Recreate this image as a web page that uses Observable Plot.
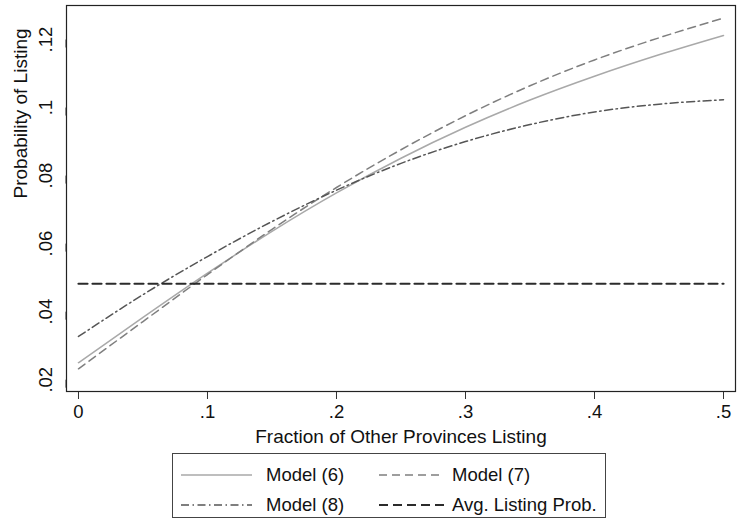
<!DOCTYPE html>
<html>
<head>
<meta charset="utf-8">
<script src="https://cdn.jsdelivr.net/npm/d3@7"></script>
<script src="https://cdn.jsdelivr.net/npm/@observablehq/plot@0.6"></script>
<style>
  html, body { margin: 0; padding: 0; background: #fff; }
  #wrap { position: relative; width: 751px; height: 518px; overflow: hidden; font-family: "Liberation Sans", Arial, Helvetica, sans-serif; }
  #chart { position: absolute; left: 0; top: 0; }
  #legend { position: absolute; left: 172px; top: 453px; width: 434px; height: 65px; box-sizing: border-box; border: 1px solid #444; background: #fff; }
  .item { position: absolute; height: 24px; display: flex; align-items: center; font-size: 18.5px; color: #111; white-space: nowrap; }
  .item svg { display: block; }
</style>
</head>
<body>
<div id="wrap">
  <div id="chart"></div>
  <div id="legend"></div>
</div>
<script>
// ---- data ----
const fraction = [0, 0.05, 0.1, 0.15, 0.2, 0.25, 0.3, 0.35, 0.4, 0.45, 0.5];
const model6 = [0.0250, 0.0383, 0.0513, 0.0636, 0.0749, 0.0851, 0.0942, 0.1022, 0.1092, 0.1155, 0.1212];
const model7 = [0.0232, 0.0371, 0.0509, 0.0642, 0.0765, 0.0876, 0.0976, 0.1064, 0.1140, 0.1205, 0.1263];
const model8 = [0.0327, 0.0450, 0.0562, 0.0665, 0.0757, 0.0836, 0.0900, 0.0950, 0.0987, 0.1010, 0.1023];
const avgListingProb = 0.0482;
const avgRange = [0, 0.5];
const seriesNames = ["Model (6)", "Model (7)", "Model (8)", "Avg. Listing Prob."];
const xTicks = [0, 0.1, 0.2, 0.3, 0.4, 0.5];
const yTicks = [0.02, 0.04, 0.06, 0.08, 0.1, 0.12];
const xTitle = "Fraction of Other Provinces Listing";
const yTitle = "Probability of Listing";

// ---- styles ----
const styles = {
  "Model (6)": {stroke: "#a9a9a9", strokeWidth: 1.5, dash: null},
  "Model (7)": {stroke: "#7f7f7f", strokeWidth: 1.5, dash: "8,5"},
  "Model (8)": {stroke: "#555555", strokeWidth: 1.5, dash: "8,3.5,1.5,3.5"},
  "Avg. Listing Prob.": {stroke: "#2b2b2b", strokeWidth: 2.2, dash: "9,5"}
};

const toRows = (vals) => fraction.map((x, i) => ({x, y: vals[i]}));
const rows6 = toRows(model6), rows7 = toRows(model7), rows8 = toRows(model8);
const avgRows = avgRange.map(x => ({x, y: avgListingProb}));

const fmt = d => d === 0 ? "0" : String(+d.toFixed(2)).replace(/^0\./, ".");
const font = "Liberation Sans, Arial, Helvetica, sans-serif";

const lineMark = (data, name) => {
  const s = styles[name];
  return Plot.line(data, {x: "x", y: "y", stroke: s.stroke, strokeWidth: s.strokeWidth,
    strokeDasharray: s.dash || undefined, curve: "monotone-x"});
};

const chart = Plot.plot({
  width: 751,
  height: 450,
  marginLeft: 66,
  marginRight: 16,
  marginTop: 5,
  marginBottom: 59,
  style: {fontFamily: font, background: "#fff", color: "#222"},
  x: {domain: [-0.0093, 0.5093]},
  y: {domain: [0.01653, 0.1300]},
  marks: [
    Plot.axisX({ticks: xTicks, tickFormat: fmt, tickSize: 8, tickPadding: 5, fontSize: 18.5,
      label: null, stroke: "#333", fill: "#111"}),
    Plot.axisY({ticks: yTicks, tickFormat: fmt, tickSize: 8, tickPadding: 7, fontSize: 18.5,
      rotate: -90, textAnchor: "middle", lineAnchor: "bottom", label: null, stroke: "#333", fill: "#111"}),
    Plot.text([xTitle], {frameAnchor: "bottom", lineAnchor: "top", dy: 38, fontSize: 19, fill: "#111"}),
    Plot.text([yTitle], {frameAnchor: "left", rotate: -90, lineAnchor: "top", dx: -53, fontSize: 19, fill: "#111"}),
    lineMark(rows6, "Model (6)"),
    lineMark(rows7, "Model (7)"),
    lineMark(rows8, "Model (8)"),
    lineMark(avgRows, "Avg. Listing Prob."),
    Plot.frame({stroke: "#222", strokeWidth: 1.2})
  ]
});
document.getElementById("chart").appendChild(chart);

// ---- legend ----
const legend = document.getElementById("legend");
const positions = [
  {left: 8, top: 9, w: 71, gap: 14},
  {left: 206, top: 9, w: 65, gap: 8},
  {left: 8, top: 39, w: 71, gap: 14},
  {left: 206, top: 39, w: 65, gap: 8}
];
seriesNames.forEach((name, i) => {
  const s = styles[name];
  const p = positions[i];
  const item = document.createElement("div");
  item.className = "item";
  item.style.left = p.left + "px";
  item.style.top = p.top + "px";
  const svg = document.createElementNS("http://www.w3.org/2000/svg", "svg");
  svg.setAttribute("width", p.w);
  svg.setAttribute("height", 10);
  svg.style.marginRight = p.gap + "px";
  const ln = document.createElementNS("http://www.w3.org/2000/svg", "line");
  ln.setAttribute("x1", 0); ln.setAttribute("x2", p.w);
  ln.setAttribute("y1", 5); ln.setAttribute("y2", 5);
  ln.setAttribute("stroke", s.stroke);
  ln.setAttribute("stroke-width", s.strokeWidth);
  if (s.dash) ln.setAttribute("stroke-dasharray", s.dash);
  svg.appendChild(ln);
  item.appendChild(svg);
  const t = document.createElement("span");
  t.textContent = name;
  item.appendChild(t);
  legend.appendChild(item);
});
</script>
</body>
</html>
